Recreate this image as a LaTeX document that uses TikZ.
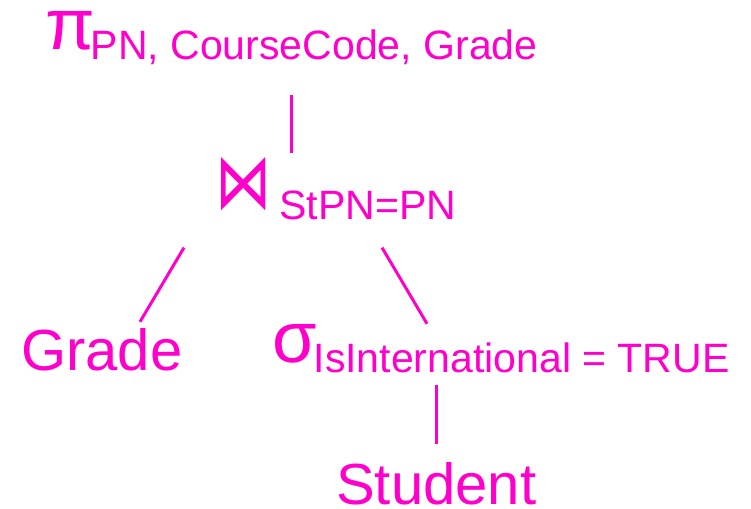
\documentclass[tikz,border=0pt]{standalone}
\usepackage{fontspec}
\setmainfont{Liberation Sans}
\newfontfamily\joinfont{DejaVu Sans}
\usepackage{tikz}
\usetikzlibrary{positioning}
\definecolor{treepink}{HTML}{FF00CC}
\newcommand{\opsize}{\fontsize{72}{72}\selectfont}
\newcommand{\relsize}{\fontsize{58}{58}\selectfont}
\newcommand{\subsize}{\fontsize{41}{41}\selectfont}
\tikzstyle{expr} = [inner sep=0pt, anchor=base west, text=treepink]
\tikzstyle{edge} = [draw=treepink, line width=3pt]

\begin{document}
\begin{tikzpicture}[x=1pt, y=-1pt]
	\useasboundingbox (0,0) rectangle (751,508);

	% place nodes
	\node [expr] (proj)    at (45,50)   {\opsize π\hspace{-4pt}\raisebox{-10pt}{\subsize PN, CourseCode, Grade}};
	\node [expr] (join)    at (215,208) {\scalebox{0.78}[1.08]{\joinfont\opsize ⋈}\hspace{8pt}\raisebox{-11pt}{\subsize StPN=PN}};
	\node [expr] (grade)   at (21,370)  {\relsize Grade};
	\node [expr] (sel)     at (272,362) {\opsize σ\hspace{-3pt}\raisebox{-10pt}{\subsize IsInternational = TRUE}};
	\node [expr] (student) at (336,504) {\relsize Student};

	% draw edges
	\path [edge, shorten <=30pt, shorten >=4pt] (proj.south) -- (proj.south |- join.north);
	\path [edge] ([xshift=-31pt,yshift=-28pt]join.south west) -- ([xshift=119pt,yshift=6pt]grade.north west);
	\path [edge] ([xshift=167pt,yshift=-28pt]join.south west) -- ([xshift=155pt]sel.north west);
	\path [edge, shorten <=12pt, shorten >=18pt] (sel.south -| student.north) -- (student.north);
\end{tikzpicture}
\end{document}
